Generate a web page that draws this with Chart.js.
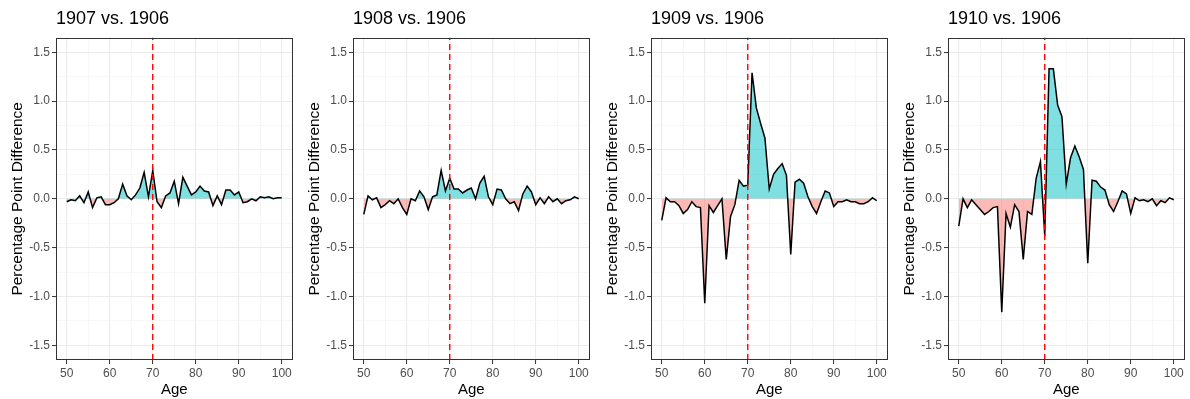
<!DOCTYPE html>
<html>
<head>
<meta charset="utf-8">
<script src="https://cdn.jsdelivr.net/npm/chart.js@4/dist/chart.umd.min.js"></script>
<style>
  html, body { margin: 0; padding: 0; background: #fff; }
  #wrap { position: relative; width: 1190px; height: 399px; }
  canvas { position: absolute; top: 0; }
</style>
</head>
<body>
<div id="wrap">
  <canvas id="c0" width="298" height="399" style="left:0px"></canvas>
  <canvas id="c1" width="298" height="399" style="left:297px"></canvas>
  <canvas id="c2" width="298" height="399" style="left:595px"></canvas>
  <canvas id="c3" width="298" height="399" style="left:892px"></canvas>
</div>
<script>
// ages on the x axis
const ages = [50, 51, 52, 53, 54, 55, 56, 57, 58, 59, 60, 61, 62, 63, 64, 65, 66, 67, 68, 69,
  70, 71, 72, 73, 74, 75, 76, 77, 78, 79, 80, 81, 82, 83, 84, 85, 86, 87, 88, 89,
  90, 91, 92, 93, 94, 95, 96, 97, 98, 99, 100];

// percentage point difference against 1906
const diff1907 = [-0.03, -0.01, -0.02, 0.03, -0.04, 0.07, -0.09, 0.01, 0.02, -0.06,
  -0.06, -0.04, 0.0, 0.15, 0.03, -0.01, 0.04, 0.11, 0.27, 0.02,
  0.29, -0.03, -0.09, 0.03, 0.06, 0.18, -0.05, 0.22, 0.13, 0.04,
  0.07, 0.13, 0.08, 0.07, -0.07, 0.03, -0.06, 0.09, 0.09, 0.04,
  0.07, -0.04, -0.03, 0.0, -0.02, 0.02, 0.01, 0.02, 0.0, 0.01, 0.01];

const diff1908 = [-0.16, 0.03, -0.01, 0.01, -0.09, -0.06, -0.02, -0.05, 0.0, -0.09,
  -0.16, 0.0, -0.02, 0.08, 0.02, -0.11, 0.02, 0.04, 0.29, 0.08,
  0.21, 0.10, 0.10, 0.06, 0.09, 0.11, 0.0, 0.16, 0.23, 0.02,
  -0.06, 0.10, 0.09, 0.0, -0.05, -0.03, -0.12, 0.05, 0.13, 0.07,
  -0.06, 0.01, -0.05, 0.02, -0.03, 0.0, -0.05, -0.02, -0.01, 0.02, 0.0];

const diff1909 = [-0.22, 0.01, -0.03, -0.03, -0.07, -0.15, -0.11, -0.03, -0.08, -0.09,
  -1.07, -0.07, -0.14, -0.07, 0.0, -0.62, -0.18, -0.06, 0.19, 0.13,
  0.14, 1.29, 0.93, 0.77, 0.62, 0.10, 0.25, 0.31, 0.36, 0.24,
  -0.57, 0.17, 0.20, 0.16, 0.02, -0.08, -0.15, -0.03, 0.08, 0.06,
  -0.08, -0.03, -0.03, -0.01, -0.03, -0.03, -0.05, -0.05, -0.03, 0.01, -0.02];

const diff1910 = [-0.28, 0.0, -0.09, -0.01, -0.06, -0.11, -0.16, -0.13, -0.09, -0.08,
  -1.16, -0.15, -0.29, -0.06, -0.13, -0.62, -0.13, -0.16, 0.21, 0.38,
  -0.38, 1.33, 1.33, 0.96, 0.84, 0.15, 0.42, 0.54, 0.43, 0.30,
  -0.66, 0.19, 0.18, 0.12, 0.09, -0.06, -0.13, -0.03, 0.08, 0.05,
  -0.15, 0.01, -0.02, -0.01, -0.03, 0.0, -0.07, -0.02, -0.04, 0.01, -0.01];

const panelTitles = ["1907 vs. 1906", "1908 vs. 1906", "1909 vs. 1906", "1910 vs. 1906"];
const panelSeries = [diff1907, diff1908, diff1909, diff1910];

const cutoffAge = 70;
const yMin = -1.65, yMax = 1.65;
const xMin = 47.5, xMax = 102.5;

const FONT = "'Liberation Sans', Arial, sans-serif";

// full panel border like theme_bw
const panelBorder = {
  id: "panelBorder",
  afterDraw(chart) {
    const { ctx, chartArea: a } = chart;
    ctx.save();
    ctx.strokeStyle = "#333333";
    ctx.lineWidth = 1;
    ctx.strokeRect(Math.round(a.left) + 0.5, Math.round(a.top) + 0.5,
      Math.round(a.right - a.left) - 1, Math.round(a.bottom - a.top) - 1);
    ctx.restore();
  }
};

const near = (v, step) => Math.abs(v / step - Math.round(v / step)) < 1e-6;
const isMajorY = v => near(Number(v), 0.5);
const isMajorX = v => near(Number(v), 10);

function makeChart(canvasId, title, values) {
  const points = ages.map((a, i) => ({ x: a, y: values[i] }));
  return new Chart(document.getElementById(canvasId), {
    type: "line",
    data: {
      datasets: [
        {
          data: [{ x: cutoffAge, y: yMin }, { x: cutoffAge, y: yMax }],
          borderColor: "#FF0000",
          borderWidth: 1.4,
          borderDash: [6, 4],
          pointRadius: 0,
          fill: false,
        },
        {
          data: points,
          borderColor: "#000000",
          borderWidth: 1.5,
          pointRadius: 0,
          tension: 0,
          fill: {
            target: "origin",
            above: "rgba(0, 191, 196, 0.5)",
            below: "rgba(248, 118, 109, 0.5)",
          },
        },
      ],
    },
    options: {
      responsive: false,
      animation: false,
      layout: { padding: { left: 0, right: 5.5, top: 0, bottom: 0 } },
      plugins: {
        legend: { display: false },
        tooltip: { enabled: false },
        title: {
          display: true,
          text: title,
          align: "start",
          fullSize: false,
          color: "#000000",
          font: { family: FONT, size: 18, weight: "normal" },
          padding: { top: 8, bottom: 8 },
        },
      },
      scales: {
        x: {
          type: "linear",
          min: xMin,
          max: xMax,
          afterFit(scale) { scale.height = 39; },
          afterBuildTicks(scale) {
            scale.ticks = ages.filter(a => a % 5 === 0).map(a => ({ value: a }));
          },
          ticks: {
            autoSkip: false,
            maxRotation: 0,
            padding: 2,
            color: "#4D4D4D",
            font: { family: FONT, size: 12 },
            callback: v => (isMajorX(v) ? String(v) : ""),
          },
          grid: {
            color: c => (isMajorX(c.tick.value) ? "#EBEBEB" : "#F4F4F4"),
            lineWidth: c => (isMajorX(c.tick.value) ? 1.1 : 0.7),
            tickColor: c => (isMajorX(c.tick.value) ? "#333333" : "rgba(0,0,0,0)"),
            tickLength: 4,
            tickWidth: 1,
          },
          border: { display: false },
          title: {
            display: true,
            text: "Age",
            color: "#000000",
            font: { family: FONT, size: 15 },
            padding: 0,
          },
        },
        y: {
          min: yMin,
          max: yMax,
          afterFit(scale) { scale.width = 56; },
          ticks: {
            stepSize: 0.25,
            includeBounds: false,
            autoSkip: false,
            padding: 2,
            color: "#4D4D4D",
            font: { family: FONT, size: 12 },
            callback: v => (isMajorY(v) ? Number(v).toFixed(1) : ""),
          },
          grid: {
            color: c => (isMajorY(c.tick.value) ? "#EBEBEB" : "#F4F4F4"),
            lineWidth: c => (isMajorY(c.tick.value) ? 1.1 : 0.7),
            tickColor: c => (isMajorY(c.tick.value) ? "#333333" : "rgba(0,0,0,0)"),
            tickLength: 4,
            tickWidth: 1,
          },
          border: { display: false },
          title: {
            display: true,
            text: "Percentage Point Difference",
            color: "#000000",
            font: { family: FONT, size: 15.5 },
            padding: { top: 8, bottom: 0 },
          },
        },
      },
    },
    plugins: [panelBorder],
  });
}

panelTitles.forEach((t, i) => makeChart("c" + i, t, panelSeries[i]));
</script>
</body>
</html>
